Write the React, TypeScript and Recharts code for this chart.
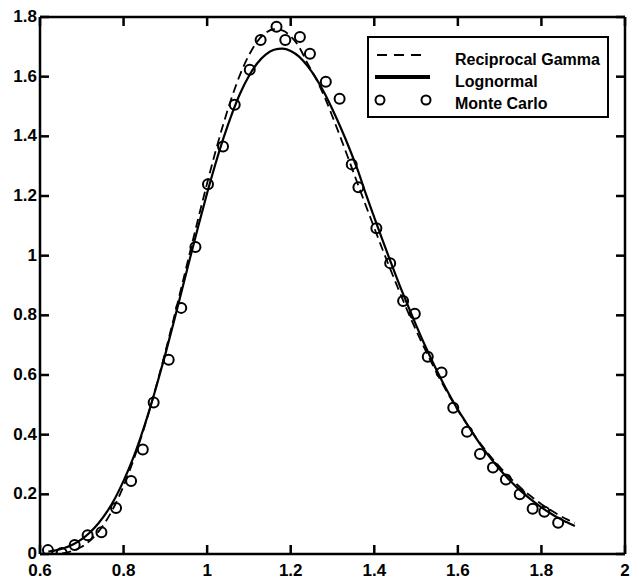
import React from 'react';
import { ComposedChart, Line, Scatter, XAxis, YAxis, Legend } from 'recharts';

const curveX = [0.62, 0.64, 0.66, 0.68, 0.70, 0.72, 0.74, 0.76, 0.78, 0.80, 0.82, 0.84, 0.86, 0.88, 0.90, 0.92, 0.94, 0.96, 0.98, 1.00, 1.02, 1.04, 1.06, 1.08, 1.10, 1.12, 1.14, 1.16, 1.18, 1.20, 1.22, 1.24, 1.26, 1.28, 1.30, 1.32, 1.34, 1.36, 1.38, 1.40, 1.42, 1.44, 1.46, 1.48, 1.50, 1.52, 1.54, 1.56, 1.58, 1.60, 1.62, 1.64, 1.66, 1.68, 1.70, 1.72, 1.74, 1.76, 1.78, 1.80, 1.82, 1.84, 1.86, 1.88];

const lognormalY = [0.008, 0.013, 0.021, 0.033, 0.050, 0.073, 0.103, 0.141, 0.188, 0.245, 0.311, 0.388, 0.474, 0.569, 0.670, 0.777, 0.887, 0.997, 1.105, 1.210, 1.308, 1.398, 1.478, 1.547, 1.602, 1.645, 1.674, 1.690, 1.694, 1.686, 1.667, 1.636, 1.596, 1.547, 1.490, 1.428, 1.361, 1.288, 1.206, 1.128, 1.051, 0.976, 0.903, 0.834, 0.767, 0.703, 0.643, 0.586, 0.533, 0.484, 0.440, 0.396, 0.355, 0.318, 0.284, 0.253, 0.225, 0.200, 0.177, 0.156, 0.138, 0.121, 0.107, 0.094];

const recipGammaY = [0.000, 0.001, 0.004, 0.011, 0.024, 0.045, 0.075, 0.115, 0.166, 0.228, 0.300, 0.382, 0.473, 0.572, 0.678, 0.789, 0.903, 1.018, 1.132, 1.243, 1.349, 1.447, 1.535, 1.611, 1.672, 1.718, 1.747, 1.759, 1.755, 1.735, 1.700, 1.645, 1.595, 1.535, 1.466, 1.393, 1.318, 1.242, 1.167, 1.093, 1.020, 0.949, 0.880, 0.813, 0.750, 0.690, 0.633, 0.579, 0.529, 0.482, 0.438, 0.397, 0.359, 0.324, 0.292, 0.262, 0.235, 0.210, 0.188, 0.167, 0.149, 0.132, 0.117, 0.104];

const monteCarloX = [0.619, 0.652, 0.683, 0.714, 0.747, 0.782, 0.818, 0.846, 0.872, 0.908, 0.938, 0.972, 1.002, 1.038, 1.066, 1.102, 1.128, 1.166, 1.187, 1.222, 1.246, 1.284, 1.317, 1.346, 1.362, 1.405, 1.438, 1.469, 1.497, 1.528, 1.561, 1.589, 1.622, 1.653, 1.684, 1.715, 1.748, 1.779, 1.807, 1.840];
const monteCarloY = [0.013, 0.003, 0.030, 0.063, 0.073, 0.154, 0.245, 0.350, 0.508, 0.651, 0.825, 1.029, 1.239, 1.366, 1.506, 1.623, 1.723, 1.767, 1.723, 1.733, 1.677, 1.583, 1.526, 1.306, 1.229, 1.092, 0.975, 0.848, 0.805, 0.661, 0.608, 0.490, 0.410, 0.335, 0.290, 0.250, 0.200, 0.152, 0.142, 0.105];

const xTicks = [0.6, 0.8, 1, 1.2, 1.4, 1.6, 1.8, 2];
const yTicks = [0, 0.2, 0.4, 0.6, 0.8, 1, 1.2, 1.4, 1.6, 1.8];

const legendLabels = ['Reciprocal Gamma', 'Lognormal', 'Monte Carlo'];

const lognormalData = curveX.map((x, i) => ({ x, y: lognormalY[i] }));
const recipGammaData = curveX.map((x, i) => ({ x, y: recipGammaY[i] }));
const monteCarloData = monteCarloX.map((x, i) => ({ x, y: monteCarloY[i] }));

// layout constants (plot frame)
const W = 633;
const H = 583;
const PLOT_LEFT = 40;
const PLOT_RIGHT = 625;
const PLOT_TOP = 17;
const BOTTOM_AXIS_H = 29;
const PLOT_BOTTOM = H - BOTTOM_AXIS_H;
const TICK_LEN = 9;
const TICK_W = 2.5;
const TICK_COLOR = '#000';

const FONT = '"Liberation Sans", Arial, Helvetica, sans-serif';
const axisLineStyle = { stroke: '#000', strokeWidth: 2.5 };

const BottomTick = (props: any) => {
  const { x, payload } = props;
  return (
    <g>
      <rect x={x - TICK_W / 2} y={PLOT_BOTTOM - TICK_LEN} width={TICK_W} height={TICK_LEN} fill={TICK_COLOR} />
      <text
        x={x}
        y={PLOT_BOTTOM + 10}
        dy="0.72em"
        textAnchor="middle"
        fill="#000"
        fontSize={17}
        fontWeight="bold"
        fontFamily={FONT}
      >
        {String(payload.value)}
      </text>
    </g>
  );
};

const TopTick = (props: any) => {
  const { x } = props;
  return <rect x={x - TICK_W / 2} y={PLOT_TOP} width={TICK_W} height={TICK_LEN} fill={TICK_COLOR} />;
};

const LeftTick = (props: any) => {
  const { y, payload } = props;
  return (
    <g>
      <rect x={PLOT_LEFT} y={y - TICK_W / 2} width={TICK_LEN} height={TICK_W} fill={TICK_COLOR} />
      <text
        x={PLOT_LEFT - 3}
        y={y}
        dy="0.3em"
        textAnchor="end"
        fill="#000"
        fontSize={17}
        fontWeight="bold"
        fontFamily={FONT}
      >
        {String(payload.value)}
      </text>
    </g>
  );
};

const RightTick = (props: any) => {
  const { y } = props;
  return <rect x={PLOT_RIGHT - TICK_LEN} y={y - TICK_W / 2} width={TICK_LEN} height={TICK_W} fill={TICK_COLOR} />;
};

const Circle = (props: any) => {
  const { cx, cy } = props;
  if (cx == null || cy == null) return null;
  return <circle cx={cx} cy={cy} r={5} fill="none" stroke="#000" strokeWidth={2} />;
};

const LegendBox = () => (
  <div
    style={{
      width: 242,
      height: 82,
      boxSizing: 'border-box',
      border: '2px solid #000',
      background: '#fff',
      position: 'relative',
      fontFamily: FONT,
      fontWeight: 'bold',
      fontSize: 16,
      color: '#000',
    }}
  >
    <svg width={80} height={80} style={{ position: 'absolute', left: 0, top: 0 }}>
      <line x1={8} y1={17} x2={55} y2={17} stroke="#000" strokeWidth={2} strokeDasharray="10 7" />
      <line x1={6} y1={39} x2={61} y2={39} stroke="#000" strokeWidth={4} />
      <circle cx={11} cy={62} r={4.5} fill="none" stroke="#000" strokeWidth={2} />
      <circle cx={57} cy={62} r={4.5} fill="none" stroke="#000" strokeWidth={2} />
    </svg>
    {legendLabels.map((label, i) => (
      <div
        key={label}
        style={{ position: 'absolute', left: 86, top: 12 + i * 22, lineHeight: '20px', whiteSpace: 'nowrap' }}
      >
        {label}
      </div>
    ))}
  </div>
);

export default function App() {
  return (
    <div style={{ position: 'absolute', left: 0, top: 0, background: '#fff' }}>
      <ComposedChart width={W} height={H} margin={{ top: 0, right: 0, bottom: 0, left: 0 }}>
        <XAxis
          xAxisId="b"
          type="number"
          dataKey="x"
          domain={[0.6, 2]}
          ticks={xTicks}
          orientation="bottom"
          height={BOTTOM_AXIS_H}
          tickSize={0}
          tickMargin={0}
          axisLine={axisLineStyle}
          tickLine={false}
          tick={<BottomTick />}
          interval={0}
          allowDataOverflow
        />
        <XAxis
          xAxisId="t"
          type="number"
          dataKey="x"
          domain={[0.6, 2]}
          ticks={xTicks}
          orientation="top"
          height={PLOT_TOP}
          tickSize={0}
          axisLine={axisLineStyle}
          tickLine={false}
          tick={<TopTick />}
          interval={0}
          allowDataOverflow
        />
        <YAxis
          yAxisId="l"
          type="number"
          domain={[0, 1.8]}
          ticks={yTicks}
          width={PLOT_LEFT}
          tickSize={0}
          tickMargin={0}
          axisLine={axisLineStyle}
          tickLine={false}
          tick={<LeftTick />}
          interval={0}
          allowDataOverflow
        />
        <YAxis
          yAxisId="r"
          orientation="right"
          type="number"
          domain={[0, 1.8]}
          ticks={yTicks}
          width={W - PLOT_RIGHT}
          tickSize={0}
          axisLine={axisLineStyle}
          tickLine={false}
          tick={<RightTick />}
          interval={0}
          allowDataOverflow
        />
        <Line
          xAxisId="b"
          yAxisId="l"
          data={recipGammaData}
          dataKey="y"
          type="monotone"
          stroke="#000"
          strokeWidth={1.8}
          strokeDasharray="9 5"
          dot={false}
          activeDot={false}
          isAnimationActive={false}
          name="Reciprocal Gamma"
        />
        <Line
          xAxisId="b"
          yAxisId="l"
          data={lognormalData}
          dataKey="y"
          type="monotone"
          stroke="#000"
          strokeWidth={2.2}
          dot={false}
          activeDot={false}
          isAnimationActive={false}
          name="Lognormal"
        />
        <Scatter
          xAxisId="b"
          yAxisId="l"
          data={monteCarloData}
          dataKey="y"
          shape={<Circle />}
          isAnimationActive={false}
          name="Monte Carlo"
        />
        <Legend
          content={() => <LegendBox />}
          layout="vertical"
          align="center"
          verticalAlign="middle"
          wrapperStyle={{ left: 367, top: 36, width: 242, height: 82 }}
        />
      </ComposedChart>
    </div>
  );
}
